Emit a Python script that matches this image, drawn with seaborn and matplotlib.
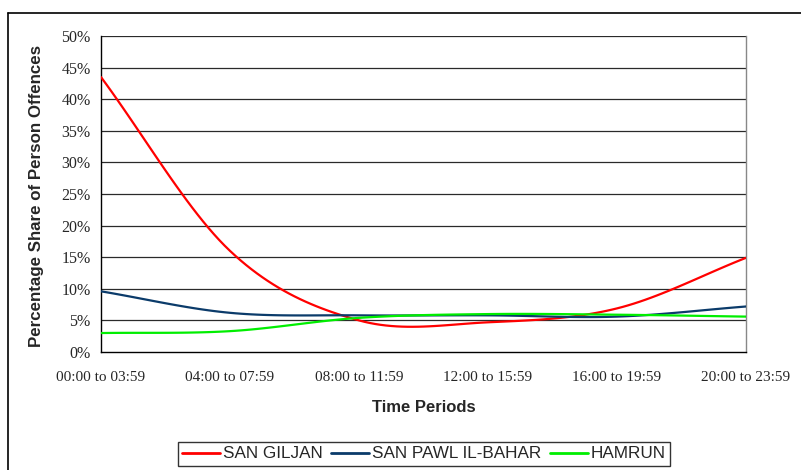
import numpy as np
import pandas as pd
import matplotlib
matplotlib.use("Agg")
import matplotlib.pyplot as plt
import seaborn as sns
from matplotlib.lines import Line2D

# ---- data ----
periods = ["00:00 to 03:59", "04:00 to 07:59", "08:00 to 11:59",
           "12:00 to 15:59", "16:00 to 19:59", "20:00 to 23:59"]
san_giljan = [43.5, 16.0, 5.0, 4.7, 6.9, 14.9]
san_pawl = [9.6, 6.2, 5.8, 5.8, 5.6, 7.2]
hamrun = [3.0, 3.3, 5.4, 6.0, 5.9, 5.6]
series_names = ["SAN GILJAN", "SAN PAWL IL-BAHAR", "HAMRUN"]
series_values = [san_giljan, san_pawl, hamrun]
colors = ["#FF0000", "#0B3B6A", "#00EE00"]
y_ticks = list(range(0, 55, 5))


def smooth_path(vals, steps=24):
    """Excel-style smoothed line rendering (cubic Bezier through the points)."""
    p = np.asarray(vals, dtype=float)
    n = len(p)
    xs, ys = [], []
    for i in range(n - 1):
        p0 = p[i - 1] if i > 0 else 2 * p[0] - p[1]
        p3 = p[i + 2] if i + 2 < n else 2 * p[n - 1] - p[n - 2]
        c1 = p[i] + (p[i + 1] - p0) / 6.0
        c2 = p[i + 1] - (p3 - p[i]) / 6.0
        t = np.linspace(0, 1, steps, endpoint=(i == n - 2))
        y = ((1 - t) ** 3 * p[i] + 3 * (1 - t) ** 2 * t * c1
             + 3 * (1 - t) * t ** 2 * c2 + t ** 3 * p[i + 1])
        xs.extend(i + t)
        ys.extend(y)
    return np.array(xs), np.array(ys)


rows = []
for name, vals in zip(series_names, series_values):
    xs, ys = smooth_path(vals)
    rows.append(pd.DataFrame({"x": xs, "y": ys, "series": name}))
df = pd.concat(rows, ignore_index=True)

sns.set_style("white")
plt.rcParams["font.family"] = ["Liberation Sans", "DejaVu Sans"]

fig = plt.figure(figsize=(8.01, 4.70), dpi=100)
ax = fig.add_axes([101 / 801, 1 - 352 / 470, 645 / 801, 316 / 470])

sns.lineplot(data=df, x="x", y="y", hue="series", palette=colors,
             hue_order=series_names, sort=False, estimator=None,
             linewidth=1.6, ax=ax, legend=False, zorder=3)

ax.set_xlim(0, len(periods) - 1)
ax.set_ylim(0, 50)
ax.set_yticks(y_ticks)
ax.set_yticklabels([f"{v}%" for v in y_ticks], family="Liberation Serif", fontsize=11.5)
ax.set_xticks(range(len(periods)))
ax.set_xticklabels(periods, family="Liberation Serif", fontsize=11)
ax.set_xlabel("")
ax.set_ylabel("")

for v in y_ticks[1:]:
    ax.axhline(v, color="#2a2a2a", linewidth=0.9, zorder=1)

for side in ["left", "bottom"]:
    ax.spines[side].set_color("black")
    ax.spines[side].set_linewidth(1.0)
ax.spines["right"].set_color("#888888")
ax.spines["right"].set_linewidth(1.0)
ax.spines["top"].set_visible(False)

ax.tick_params(axis="y", direction="inout", length=7, width=1, pad=4, color="black")
ax.tick_params(axis="x", direction="inout", length=9, width=1, pad=9, color="black")

fig.text(37 / 801, 1 - 196 / 470, "Percentage Share of Person Offences",
         rotation=90, ha="center", va="center", fontsize=12.2, fontweight="bold")
fig.text(424 / 801, 1 - 407 / 470, "Time Periods", ha="center", va="center",
         fontsize=12, fontweight="bold")

# outer chart border
fig.add_artist(Line2D([8 / 801, 8 / 801], [0, 1 - 13 / 470], color="black",
                      linewidth=1.2, transform=fig.transFigure))
fig.add_artist(Line2D([8 / 801, 1], [1 - 13 / 470, 1 - 13 / 470], color="black",
                      linewidth=1.2, transform=fig.transFigure))

handles = [Line2D([0], [0], color=c, linewidth=2) for c in colors]
leg = fig.legend(handles, series_names, loc="center",
                 bbox_to_anchor=(424 / 801, 1 - 454 / 470), ncol=3,
                 frameon=True, fancybox=False, edgecolor="black",
                 fontsize=12.3, handlelength=2.2, handletextpad=0.2,
                 columnspacing=0.5, borderpad=0.25)
leg.get_frame().set_linewidth(1.0)

fig.savefig("out.png", dpi=100, facecolor="white")
